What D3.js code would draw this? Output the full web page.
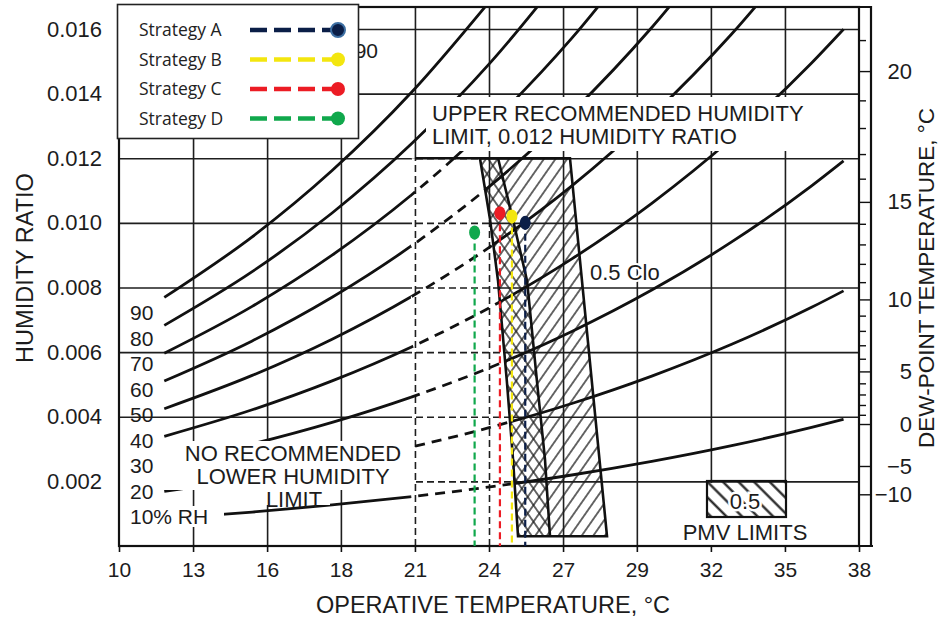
<!DOCTYPE html>
<html>
<head>
<meta charset="utf-8">
<script src="https://cdn.jsdelivr.net/npm/d3@7"></script>
<style>
  body { margin: 0; background: #fff; }
  text { font-family: "Liberation Sans", Arial, sans-serif; fill: #1c1c1c; }
  .legend text { font-family: "Open Sans", "Noto Sans", sans-serif; fill: #222; }
</style>
</head>
<body>
<svg id="chart" width="940" height="619"></svg>
<script>
// ---- values ----
const xTickTemps = [10, 12.78, 15.56, 18.33, 21.11, 23.89, 26.67, 29.44, 32.22, 35, 37.78];
const xTickLabels = ["10", "13", "16", "18", "21", "24", "27", "29", "32", "35", "38"];
const yTicks = [0.002, 0.004, 0.006, 0.008, 0.010, 0.012, 0.014, 0.016];

// RH curves: humidity ratio at each of rhTemps
const rhTemps = [11.7, 15, 18, 21, 24, 27, 30, 33, 36, 37.2];
const rh10 = [0.000845, 0.001049, 0.001270, 0.001531, 0.001838, 0.002197, 0.002618, 0.003105, 0.003671, 0.003923];
const rh20 = [0.001693, 0.002101, 0.002545, 0.003069, 0.003686, 0.004410, 0.005258, 0.006242, 0.007386, 0.007895];
const rh30 = [0.002543, 0.003157, 0.003825, 0.004616, 0.005546, 0.006639, 0.007920, 0.009410, 0.011145, 0.011918];
const rh40 = [0.003395, 0.004216, 0.005110, 0.006169, 0.007417, 0.008884, 0.010605, 0.012610, 0.014949, 0.015993];
const rh50 = [0.004249, 0.005279, 0.006401, 0.007731, 0.009299, 0.011145, 0.013314, 0.015843, 0.018800];
const rh60 = [0.005106, 0.006346, 0.007697, 0.009300, 0.011192, 0.013421, 0.016045, 0.019109];
const rh70 = [0.005966, 0.007416, 0.008999, 0.010877, 0.013096, 0.015715, 0.018800];
const rh80 = [0.006828, 0.008490, 0.010306, 0.012462, 0.015013, 0.018025];
const rh90 = [0.007692, 0.009567, 0.011618, 0.014055, 0.016940];
const rhLabels = ["90", "80", "70", "60", "50", "40", "30", "20", "10% RH"];

// dew-point scale on the right
const dewTemps = [-10, -5, 0, 1, 2, 3, 4, 5, 6, 7, 8, 9, 10, 11, 12, 13, 14, 15, 16, 17, 18, 19, 20, 21];
const dewW = [0.001600, 0.002476, 0.003775, 0.004060, 0.004364, 0.004689, 0.005034, 0.005403,
  0.005795, 0.006212, 0.006657, 0.007129, 0.007631, 0.008165, 0.008731, 0.009333, 0.009971,
  0.010649, 0.011367, 0.012129, 0.012935, 0.013791, 0.014697, 0.015656];
const dewLabels = [-10, -5, 0, 5, 10, 15, 20];

// comfort zones (temperature, humidity ratio)
const upperLimitW = 0.012;
const zone10LeftT = 21.11;
const zone05Left = [[23.55, 0.0120], [23.93, 0.0101], [24.23, 0.0082], [24.56, 0.0051], [24.79, 0.0027], [24.98, 0.0003]];
const zone05Right = [[26.93, 0.0120], [28.32, 0.0003]];
const zone10Right = [[24.23, 0.0120], [24.79, 0.0101], [25.32, 0.0082], [25.69, 0.0051], [25.99, 0.0027], [26.18, 0.0003]];

// strategies
const strategyNames = ["Strategy A", "Strategy B", "Strategy C", "Strategy D"];
const strategyTemp = [25.25, 24.75, 24.30, 23.35];
const strategyW = [0.0100, 0.0102, 0.0103, 0.0097];
const strategyColors = ["#0b1e47", "#f3e60f", "#ec1c24", "#10a84c"];

// ---- scales ----
const pLeft = 119, pRight = 859, pTop = 7, pBottom = 546;
const x = d3.scaleLinear().domain([10, 37.78]).range([pLeft, pRight]);
const y = d3.scaleLinear().domain([0, 0.01668]).range([pBottom, pTop]);

const svg = d3.select("#chart");
svg.append("rect").attr("width", 940).attr("height", 619).attr("fill", "#fff");
const defs = svg.append("defs");

function hatch(id, angle, gap, width) {
  const p = defs.append("pattern").attr("id", id)
    .attr("patternUnits", "userSpaceOnUse")
    .attr("width", gap).attr("height", gap)
    .attr("patternTransform", `rotate(${angle})`);
  p.append("line").attr("x1", gap / 2).attr("x2", gap / 2).attr("y1", 0).attr("y2", gap)
    .attr("stroke", "#1a1a1a").attr("stroke-width", width);
}
hatch("hatchFwd", 35, 9.5, 1.3);
hatch("hatchBack", -35, 9.5, 1.3);
hatch("hatchBox", -45, 11, 2.2);

// erased area left of the 0.5 clo zone
const pt = d => [x(d[0]), y(d[1])];
const eLeft = x(zone10LeftT) - 4;
const ePts = [[eLeft, y(upperLimitW)], ...zone05Left.map(pt),
  [x(zone05Left[zone05Left.length - 1][0]), pBottom], [eLeft, pBottom]];
const ePath = "M" + ePts.join("L") + "Z";
defs.append("clipPath").attr("id", "outE").append("path")
  .attr("d", `M${pLeft},${pTop}H${pRight}V${pBottom}H${pLeft}Z${ePath}`)
  .attr("clip-rule", "evenodd");
defs.append("clipPath").attr("id", "inE").append("path").attr("d", ePath);

// hatched zones
const poly05 = [zone05Left[0], ...zone05Right, ...zone05Left.slice().reverse()];
const polyOverlap = [...zone05Left, ...zone10Right.slice().reverse()];
const polyLine = d3.line().x(d => x(d[0])).y(d => y(d[1]));
svg.append("path").attr("d", polyLine(poly05) + "Z").attr("fill", "url(#hatchFwd)");
svg.append("path").attr("d", polyLine(polyOverlap) + "Z").attr("fill", "url(#hatchBack)");

// grid + RH curves
function drawGrid(g) {
  g.append("g").attr("transform", `translate(${pLeft},0)`)
    .call(d3.axisLeft(y).tickValues(yTicks).tickSize(-(pRight - pLeft)).tickFormat(""));
  g.append("g").attr("transform", `translate(0,${pBottom})`)
    .call(d3.axisBottom(x).tickValues(xTickTemps.slice(1, -1)).tickSize(-(pBottom - pTop)).tickFormat(""));
  g.selectAll(".domain").remove();
  g.selectAll(".tick line").attr("stroke", "#1e1e1e").attr("stroke-width", 1.6);
}
const rhCurves = [rh10, rh20, rh30, rh40, rh50, rh60, rh70, rh80, rh90];
const rhLine = d3.line().x(d => x(d[0])).y(d => y(d[1])).curve(d3.curveMonotoneX);
function drawRH(g) {
  g.selectAll("path.rh").data(rhCurves).join("path").attr("class", "rh")
    .attr("d", c => rhLine(c.map((w, i) => [rhTemps[i], w])))
    .attr("fill", "none").attr("stroke", "#111").attr("stroke-width", 2.8);
}
const solid = svg.append("g").attr("clip-path", "url(#outE)");
drawGrid(solid);
drawRH(solid);
const faded = svg.append("g").attr("clip-path", "url(#inE)");
drawGrid(faded);
drawRH(faded);
faded.selectAll(".tick line").attr("stroke-dasharray", "7,4");
faded.selectAll("path.rh").attr("stroke-dasharray", "10,7");

// white patches behind the printed notes
const masks = [[426, 97, 410, 54], [160, 441, 252, 49], [119, 478, 41, 8], [258, 490, 72, 15], [127, 506, 97, 21], [680, 483, 132, 62]];
svg.selectAll("rect.mask").data(masks).join("rect").attr("class", "mask")
  .attr("x", d => d[0]).attr("y", d => d[1]).attr("width", d => d[2]).attr("height", d => d[3])
  .attr("fill", "#fff");

// zone outlines
function outline(d) {
  svg.append("path").attr("d", d).attr("fill", "none").attr("stroke", "#111").attr("stroke-width", 2.6);
}
outline(polyLine([zone05Left[0], ...zone05Right]) + "L" + polyLine(zone05Left.slice().reverse()).slice(1));
outline(polyLine(zone10Right));
outline(polyLine([[zone10LeftT, upperLimitW], [zone05Right[0][0], upperLimitW]]));

// frame and dew-point strip
svg.append("rect").attr("x", pLeft).attr("y", pTop).attr("width", pRight - pLeft).attr("height", pBottom - pTop)
  .attr("fill", "none").attr("stroke", "#111").attr("stroke-width", 2.2);
svg.append("path").attr("d", `M${pRight},${pTop}H871V${pBottom}M${pLeft},${pBottom}H873`)
  .attr("fill", "none").attr("stroke", "#111").attr("stroke-width", 2.2);

// axes
const xAxis = svg.append("g").attr("transform", `translate(0,${pBottom})`)
  .call(d3.axisBottom(x).tickValues(xTickTemps).tickSize(6).tickPadding(10)
    .tickFormat((d, i) => xTickLabels[i]));
xAxis.select(".domain").remove();
xAxis.selectAll(".tick line").attr("stroke", "#111").attr("stroke-width", 1.6);
xAxis.selectAll(".tick text").style("font-size", "21px");

const yAxis = svg.append("g").attr("transform", `translate(${pLeft},0)`)
  .call(d3.axisLeft(y).tickValues(yTicks).tickSize(0).tickPadding(17).tickFormat(d3.format(".3f")));
yAxis.select(".domain").remove();
yAxis.selectAll(".tick text").style("font-size", "22px");

const dewScale = d3.scaleLinear().domain(dewTemps).range(dewW.map(w => y(w)));
const dewAxis = svg.append("g").attr("transform", `translate(${pRight},0)`)
  .call(d3.axisRight(dewScale).tickValues(dewTemps).tickSize(7)
    .tickFormat(d => dewLabels.includes(d) ? d3.format("d")(d) : ""));
dewAxis.select(".domain").remove();
dewAxis.selectAll(".tick line").attr("x2", d => dewLabels.includes(d) ? 12 : 7)
  .attr("stroke", "#111").attr("stroke-width", 1.4);
dewAxis.selectAll(".tick text").attr("x", 53).attr("text-anchor", "end").style("font-size", "22px");

// titles
svg.append("text").attr("transform", "translate(33,268) rotate(-90)").attr("text-anchor", "middle")
  .style("font-size", "23.5px").text("HUMIDITY RATIO");
svg.append("text").attr("x", 493).attr("y", 613).attr("text-anchor", "middle")
  .style("font-size", "23.5px").text("OPERATIVE TEMPERATURE, °C");
svg.append("text").attr("transform", "translate(934,278) rotate(-90)").attr("text-anchor", "middle")
  .style("font-size", "22.5px").text("DEW-POINT TEMPERATURE, °C");

// RH labels
svg.selectAll("text.rhl").data(rhLabels).join("text").attr("class", "rhl")
  .attr("x", 130).attr("y", (d, i) => 320 + i * 25.5).style("font-size", "21px").text(d => d);

// notes
const note = (tx, ty, s, size, anchor) => svg.append("text").attr("x", tx).attr("y", ty)
  .attr("text-anchor", anchor || "start").style("font-size", size + "px").text(s);
note(432, 121, "UPPER RECOMMENDED HUMIDITY", 22);
note(432, 144, "LIMIT, 0.012 HUMIDITY RATIO", 22);
note(293, 461, "NO RECOMMENDED", 22, "middle");
note(293, 484, "LOWER HUMIDITY", 22, "middle");
note(294, 507, "LIMIT", 22, "middle");
note(378, 58, "90", 21, "end");
note(590, 280, "0.5 Clo", 22)
  .attr("stroke", "#fff").attr("stroke-width", 4).attr("paint-order", "stroke");

// PMV key
svg.append("rect").attr("x", 707).attr("y", 481).attr("width", 79).attr("height", 36)
  .attr("fill", "url(#hatchBox)").attr("stroke", "#111").attr("stroke-width", 2.2);
note(745, 509, "0.5", 22, "middle").attr("stroke", "#fff").attr("stroke-width", 5).attr("paint-order", "stroke");
note(745, 540, "PMV LIMITS", 22, "middle");

// strategy markers
const strat = svg.append("g").selectAll("g").data(strategyNames).join("g");
strat.append("line")
  .attr("x1", (d, i) => x(strategyTemp[i])).attr("x2", (d, i) => x(strategyTemp[i]))
  .attr("y1", (d, i) => y(strategyW[i])).attr("y2", pBottom)
  .attr("stroke", (d, i) => strategyColors[i]).attr("stroke-width", 2.2).attr("stroke-dasharray", "7,4");
strat.append("ellipse")
  .attr("cx", (d, i) => x(strategyTemp[i])).attr("cy", (d, i) => y(strategyW[i]))
  .attr("rx", 5.5).attr("ry", 7).attr("fill", (d, i) => strategyColors[i]);

// legend
const legend = svg.append("g").attr("class", "legend");
legend.append("rect").attr("x", 117.5).attr("y", 4.5).attr("width", 241).attr("height", 134)
  .attr("fill", "#fff").attr("stroke", "#222").attr("stroke-width", 1.6);
const rows = legend.selectAll("g.row").data(strategyNames).join("g").attr("class", "row")
  .attr("transform", (d, i) => `translate(0,${30 + i * 29.5})`);
rows.append("text").attr("x", 139).attr("dy", "0.36em").style("font-size", "17.5px").text(d => d);
rows.append("line").attr("x1", 250).attr("x2", 336)
  .attr("stroke", (d, i) => strategyColors[i]).attr("stroke-width", 4.5).attr("stroke-dasharray", "17,7");
rows.append("circle").attr("cx", 338).attr("r", 7)
  .attr("fill", (d, i) => strategyColors[i])
  .attr("stroke", (d, i) => i === 0 ? "#3d6fa3" : "none").attr("stroke-width", 2);
</script>
</body>
</html>
